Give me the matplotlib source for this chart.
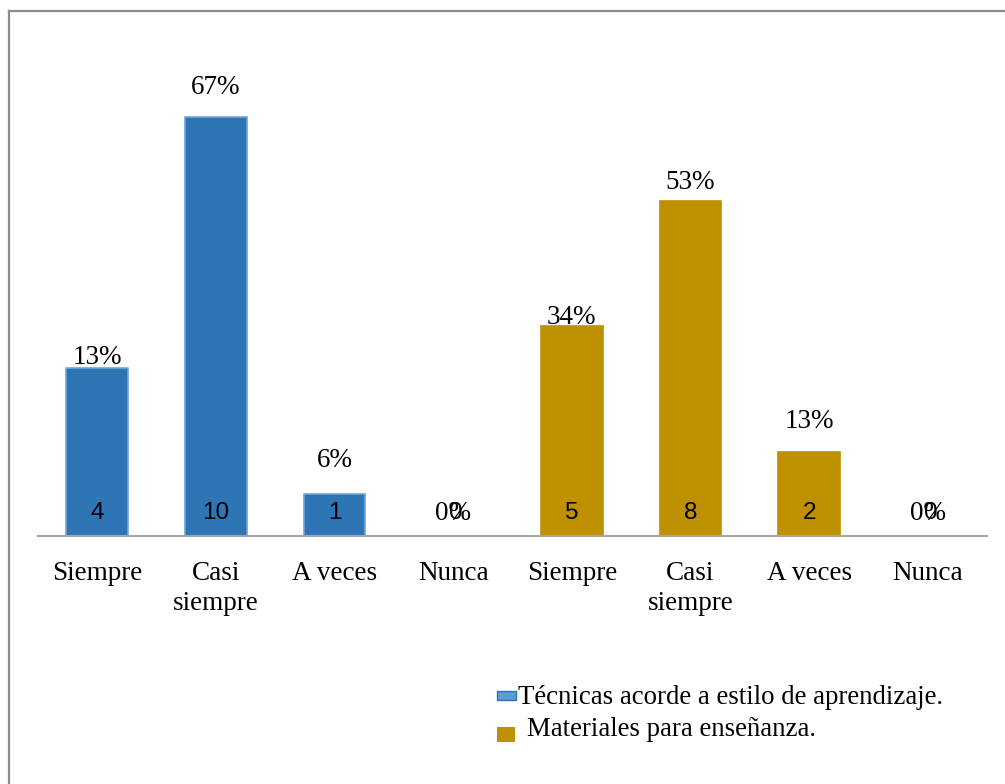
import matplotlib
matplotlib.use("Agg")
import matplotlib.pyplot as plt
from matplotlib.lines import Line2D
from matplotlib.patches import Rectangle

categories = ["Siempre", "Casi\nsiempre", "A veces", "Nunca",
              "Siempre", "Casi\nsiempre", "A veces", "Nunca"]
tecnicas = [4, 10, 1, 0]
materiales = [5, 8, 2, 0]
pct_tecnicas = ["13%", "67%", "6%", "0%"]
pct_materiales = ["34%", "53%", "13%", "0%"]
series_names = ["Técnicas acorde a estilo de aprendizaje.",
                "Materiales para enseñanza."]

BLUE = "#2E75B6"
BLUE_EDGE = "#6FA5DA"
GOLD = "#BF9000"
SERIF = "Liberation Serif"
SANS = "Liberation Sans"

# label offset above the bar top (pixels), just layout tuning
pct_dy = [11, 29, 34, 22, 9, 18, 31, 22]

fig = plt.figure(figsize=(10.05, 7.84), dpi=100)
ax = fig.add_axes([38 / 1005, 248 / 784, 949 / 1005, 503 / 784])

values = tecnicas + materiales
pcts = pct_tecnicas + pct_materiales
xs = list(range(len(values)))
colors = [BLUE] * len(tecnicas) + [GOLD] * len(materiales)
edges = [BLUE_EDGE] * len(tecnicas) + [GOLD] * len(materiales)

bars = ax.bar(xs, values, width=0.52, color=colors, edgecolor=edges, linewidth=1.2)

for x, v, p, dy in zip(xs, values, pcts, pct_dy):
    ax.annotate(p, (x, v), xytext=(0, dy * 0.72), textcoords="offset points",
                ha="center", va="center", family=SERIF, fontsize=19.5)
    ax.annotate(str(v), (x, 0), xytext=(2 if v == 0 else 0, 23 * 0.72),
                textcoords="offset points", ha="center", va="center",
                family=SANS, fontsize=17.5, color="black")

ax.set_xlim(-0.5, len(values) - 0.5)
ax.set_ylim(0, 12)
ax.set_xticks(xs)
ax.set_xticklabels(categories, family=SERIF, fontsize=19.5, linespacing=1.25)
ax.tick_params(axis="x", length=0, pad=18)
ax.set_yticks([])
for s in ["top", "right", "left"]:
    ax.spines[s].set_visible(False)
ax.spines["bottom"].set_color("#A6A6A6")
ax.spines["bottom"].set_linewidth(1.5)

# outer frame (left and top edges only visible)
fig.add_artist(Line2D([8.5 / 1005, 8.5 / 1005], [0, 1 - 11 / 784],
                      transform=fig.transFigure, color="#8C8C8C", lw=1.6))
fig.add_artist(Line2D([8.5 / 1005, 1], [1 - 11 / 784, 1 - 11 / 784],
                      transform=fig.transFigure, color="#8C8C8C", lw=1.6))

# legend
fig.add_artist(Rectangle((497 / 1005, 1 - 700 / 784), 19 / 1005, 9 / 784,
                         transform=fig.transFigure, facecolor="#5B9BD5",
                         edgecolor=BLUE, lw=1.0))
fig.text(518 / 1005, 1 - 697 / 784, series_names[0], family=SERIF, fontsize=19.3,
         ha="left", va="center")
fig.add_artist(Rectangle((497 / 1005, 1 - 742 / 784), 18 / 1005, 15 / 784,
                         transform=fig.transFigure, facecolor=GOLD,
                         edgecolor=GOLD, lw=0))
fig.text(527 / 1005, 1 - 729 / 784, series_names[1], family=SERIF, fontsize=19.3,
         ha="left", va="center")

fig.savefig("out.png", dpi=100)
